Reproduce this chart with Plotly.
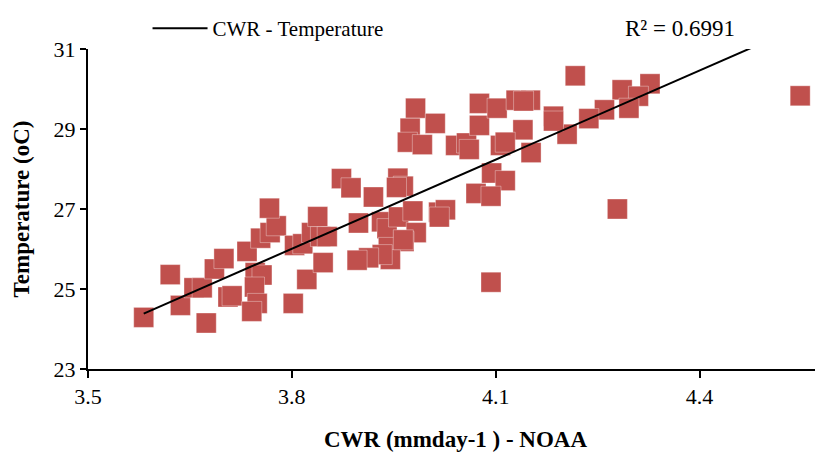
import numpy as np
import plotly.graph_objects as go

# CWR (mm/day) - NOAA
cwr = [3.582, 3.621, 3.636, 3.674, 3.656, 3.668, 3.686, 3.700, 3.706, 3.712,
       3.734, 3.746, 3.756, 3.745, 3.749, 3.741, 3.754, 3.768, 3.777, 3.767,
       3.802, 3.804, 3.816, 3.822, 3.829, 3.838, 3.842, 3.846, 3.852, 3.873,
       3.887, 3.920, 3.956, 3.964, 3.954, 3.898, 3.932, 3.940, 3.957, 3.978,
       4.016, 4.026, 4.017, 4.071, 3.983, 3.965, 3.942, 3.945, 3.933, 3.913,
       3.896, 3.982, 4.011, 3.974, 3.970, 3.992, 4.041, 4.057, 4.061, 4.076,
       4.076, 4.102, 4.094, 4.217, 4.286, 4.327, 4.310, 4.296, 4.260, 4.237,
       4.205, 4.185, 4.185, 4.152, 4.140, 4.130, 4.151, 4.141, 4.107, 4.114,
       4.114, 4.093, 4.093, 4.548, 4.279, 3.964]
# Temperature (oC)
temp = [24.29, 25.36, 24.59, 24.15, 25.03, 25.03, 25.50, 25.76, 24.80, 24.83,
        25.94, 25.41, 25.35, 25.05, 24.64, 24.44, 26.27, 26.41, 26.58, 27.02,
        24.64, 26.09, 26.13, 25.24, 26.41, 26.81, 26.31, 25.66, 26.31, 27.76,
        27.53, 27.30, 27.77, 27.57, 27.54, 26.65, 26.68, 26.51, 26.80, 26.95,
        26.92, 26.98, 26.80, 27.39, 26.41, 26.19, 26.04, 25.74, 25.86, 25.78,
        25.72, 29.52, 29.14, 29.02, 28.67, 28.61, 28.59, 28.65, 28.49, 29.64,
        29.09, 29.52, 27.90, 30.33, 29.98, 30.13, 29.82, 29.52, 29.48, 29.26,
        28.87, 29.32, 29.20, 28.41, 28.98, 29.72, 29.72, 29.70, 28.59, 28.67,
        27.71, 27.32, 25.17, 29.83, 27.00, 26.23]

x_ticks = [3.5, 3.8, 4.1, 4.4]
y_ticks = [23, 25, 27, 29, 31]
trend_name = "CWR - Temperature"
r2_label = "R² = 0.6991"

x = np.array(cwr)
y = np.array(temp)
slope, intercept = np.polyfit(x, y, 1)
tx = np.array([x.min(), x.max()])
ty = slope * tx + intercept

FONT = "Liberation Serif, Times New Roman, serif"

fig = go.Figure()
fig.add_trace(go.Scatter(
    x=cwr, y=temp, mode="markers", showlegend=False,
    marker=dict(symbol="square", size=20, color="#C0504D",
                line=dict(color="rgba(255,255,255,0.35)", width=1)),
))
fig.add_trace(go.Scatter(
    x=tx, y=ty, mode="lines", name=trend_name, showlegend=True,
    line=dict(color="black", width=2),
))

fig.update_layout(
    width=815, height=452,
    margin=dict(l=80, r=0, t=33, b=91),
    paper_bgcolor="white", plot_bgcolor="white",
    font=dict(family=FONT, size=22, color="black"),
    legend=dict(orientation="h", xref="paper", yref="container",
                x=0.081, y=1.0, xanchor="left", yanchor="top",
                font=dict(size=21), itemwidth=55, bgcolor="rgba(0,0,0,0)"),
    annotations=[dict(text=r2_label, xref="paper", yref="paper", x=0.806, y=1.064,
                      xanchor="center", yanchor="middle", showarrow=False,
                      font=dict(size=23, family=FONT))],
)
fig.update_xaxes(
    range=[3.5, 4.5816], tickvals=x_ticks, ticktext=[str(v) for v in x_ticks],
    showgrid=False, zeroline=False, showline=True, linecolor="black", linewidth=2,
    ticks="outside", ticklen=7, tickwidth=2, tickcolor="black",
    tickfont=dict(size=22), automargin=False,
    title=dict(text="<b>CWR (mmday-1 ) - NOAA</b>", font=dict(size=23), standoff=22),
)
fig.update_yaxes(
    range=[23, 31], tickvals=y_ticks,
    showgrid=False, zeroline=False, showline=True, linecolor="black", linewidth=2,
    ticks="outside", ticklen=6, tickwidth=2, tickcolor="black",
    tickfont=dict(size=22), automargin=False,
    title=dict(text="<b>Temperature (oC)</b>", font=dict(size=23), standoff=18),
)

fig.write_html("out.html")
